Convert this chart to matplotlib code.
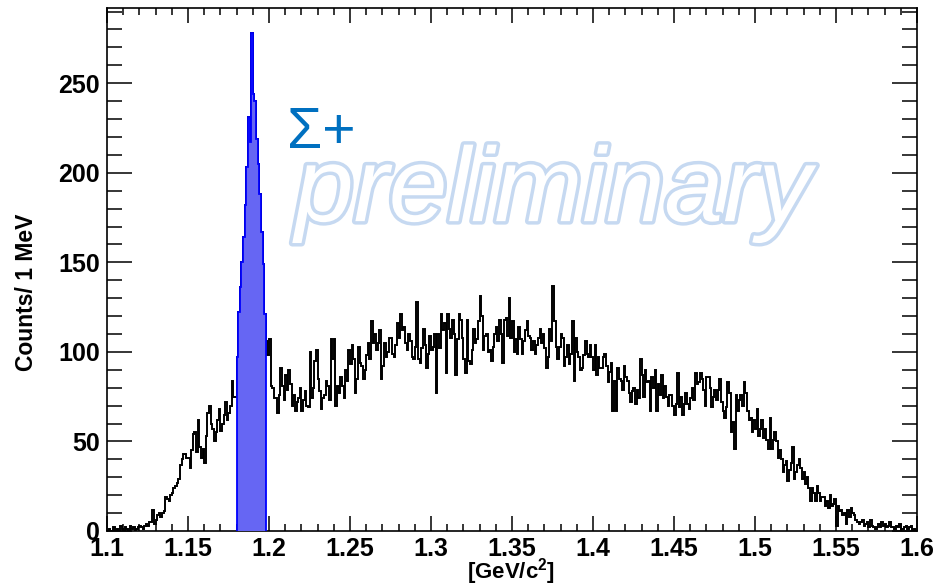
import numpy as np
import matplotlib.pyplot as plt
import matplotlib.patheffects as pe
from matplotlib.ticker import MultipleLocator, FuncFormatter

plt.rcParams['font.family'] = 'Liberation Sans'
plt.rcParams['mathtext.fontset'] = 'custom'
plt.rcParams['mathtext.rm'] = 'Liberation Sans:bold'
plt.rcParams['mathtext.it'] = 'Liberation Sans:bold'
plt.rcParams['mathtext.bf'] = 'Liberation Sans:bold'

# histogram: 1 MeV bins from 1.1 to 1.6 GeV/c^2
x_min, x_max, bin_width = 1.1, 1.6, 0.001

# 1.100 - 1.127
counts_low = [0, 1, 0, 0, 2, 0, 1, 0, 3, 1, 0, 2, 1, 0, 3, 1, 2, 0, 1, 2, 3, 2, 1, 3, 4, 3, 5]
# 1.127 - 1.180 (rising edge)
counts_rise = [5, 12, 4, 6, 9, 10, 8, 10, 11, 19, 18, 17, 20, 21, 24, 25, 27, 29, 37, 40,
               43, 43, 41, 41, 35, 45, 54, 55, 44, 62, 47, 41, 46, 38, 53, 66, 70, 60, 57, 50,
               55, 62, 68, 56, 60, 65, 72, 62, 66, 70, 84, 75, 75]
# 1.180 - 1.198 (Sigma+ peak, drawn in blue)
counts_peak = [97, 122, 136, 150, 164, 182, 203, 231, 217, 278, 244, 240, 219, 205, 188, 167, 149, 121]
# 1.198 - 1.313
counts_mid1 = [106, 98, 107, 81, 80, 74, 74, 66, 76, 91, 81, 73, 87, 79, 90, 82, 70, 76, 67, 72,
               74, 80, 67, 73, 78, 70, 69, 100, 74, 80, 95, 101, 85, 78, 68, 74, 76, 84, 81, 73,
               107, 96, 107, 70, 81, 77, 86, 81, 74, 90, 84, 101, 93, 104, 96, 77, 85, 103, 94, 92,
               85, 90, 98, 105, 96, 117, 105, 110, 101, 105, 112, 85, 92, 105, 97, 100, 108, 108, 99, 97,
               104, 116, 108, 121, 112, 114, 105, 101, 110, 106, 97, 96, 103, 128, 96, 94, 102, 113, 104, 91,
               99, 109, 101, 103, 110, 77, 110, 102, 121, 112, 116, 88, 121, 113, 108]
# 1.313 - 1.426
counts_mid2 = [118, 110, 87, 107, 121, 118, 108, 96, 88, 118, 95, 93, 101, 113, 105, 107, 117, 131, 120, 101,
               109, 110, 100, 101, 95, 103, 110, 114, 106, 118, 110, 94, 118, 119, 109, 130, 108, 117, 100, 107,
               99, 114, 107, 99, 106, 112, 117, 109, 108, 101, 106, 99, 104, 108, 113, 105, 110, 102, 91, 97,
               113, 106, 137, 117, 103, 96, 103, 110, 108, 92, 97, 104, 93, 99, 117, 84, 108, 100, 97, 90,
               91, 98, 106, 99, 97, 104, 97, 90, 104, 87, 97, 91, 91, 97, 99, 92, 83, 89, 94, 67,
               84, 67, 91, 85, 84, 79, 92, 86, 84, 77, 72, 78, 80]
# 1.426 - 1.537
counts_fall = [71, 79, 74, 96, 87, 75, 90, 83, 84, 67, 86, 80, 90, 67, 82, 76, 87, 74, 81, 75,
               70, 76, 76, 70, 65, 71, 88, 69, 75, 65, 71, 77, 71, 68, 74, 80, 73, 88, 82, 83,
               88, 85, 79, 70, 86, 86, 80, 69, 75, 79, 73, 79, 85, 72, 67, 63, 69, 83, 77, 55,
               61, 46, 76, 67, 73, 76, 70, 83, 77, 67, 62, 63, 55, 62, 57, 68, 53, 57, 62, 52,
               57, 51, 46, 63, 46, 51, 55, 50, 41, 45, 40, 33, 37, 39, 28, 34, 38, 47, 29, 33,
               37, 40, 35, 29, 33, 26, 30, 24, 17, 24, 21]
# 1.537 - 1.600 (tail)
counts_tail = [17, 25, 21, 17, 19, 19, 14, 17, 13, 20, 14, 15, 18, 3, 14, 11, 12, 9, 10, 4,
               12, 8, 13, 10, 9, 6, 5, 4, 5, 6, 3, 4, 5, 2, 6, 3, 2, 1, 2, 4,
               2, 5, 3, 4, 2, 3, 5, 2, 2, 1, 3, 2, 4, 1, 1, 2, 3, 1, 2, 3,
               0, 1, 0]

counts = np.array(counts_low + counts_rise + counts_peak + counts_mid1 + counts_mid2 + counts_fall + counts_tail, dtype=float)
nbins = len(counts)
edges = x_min + bin_width * np.arange(nbins + 1)
peak_start = len(counts_low) + len(counts_rise)
peak_stop = peak_start + len(counts_peak)

fig = plt.figure(figsize=(9.34, 5.88), dpi=100)
ax = fig.add_axes([107 / 934, 57 / 588, 810 / 934, 523 / 588])

ax.stairs(counts, edges, color='black', lw=1.4)
ax.stairs(counts[peak_start:peak_stop], edges[peak_start:peak_stop + 1], fill=True,
          facecolor='#6666f3', edgecolor='none', zorder=3)
ax.stairs(counts[peak_start:peak_stop], edges[peak_start:peak_stop + 1],
          color='#0000ff', lw=1.3, baseline=0, zorder=4)

ax.set_xlim(x_min, x_max)
ax.set_ylim(0, 292)
ax.xaxis.set_major_locator(MultipleLocator(0.05))
ax.xaxis.set_minor_locator(MultipleLocator(0.01))
ax.yaxis.set_major_locator(MultipleLocator(50))
ax.yaxis.set_minor_locator(MultipleLocator(10))
ax.xaxis.set_major_formatter(FuncFormatter(lambda v, p: '%g' % round(v, 3)))
ax.tick_params(which='both', direction='in', top=True, right=True, width=1.1, color='black')
ax.tick_params(axis='x', which='major', length=11, labelsize=18, pad=4)
ax.tick_params(axis='x', which='minor', length=5)
ax.tick_params(axis='y', which='major', length=18, labelsize=18, pad=5)
ax.tick_params(axis='y', which='minor', length=10.5)
for lbl in ax.get_xticklabels() + ax.get_yticklabels():
    lbl.set_fontweight('bold')
for s in ax.spines.values():
    s.set_linewidth(1.2)

fig.text(511 / 934, 1 - 572 / 588, '[GeV/c$^{2}$]', ha='center', va='center', fontsize=16, fontweight='bold')
fig.text(27 / 934, 1 - 292 / 588, 'Counts/ 1 MeV', rotation=90, ha='center', va='center',
         fontsize=16.5, fontweight='bold')

ax.text(1.211, 214, 'Σ+', color='#0070c0', fontsize=41, zorder=5)
ax.text(1.216, 173, 'preliminary', color='white', fontsize=76, style='italic', zorder=5,
        path_effects=[pe.withStroke(linewidth=5, foreground='#c6d9f1')])

fig.savefig('out.png', dpi=100)
